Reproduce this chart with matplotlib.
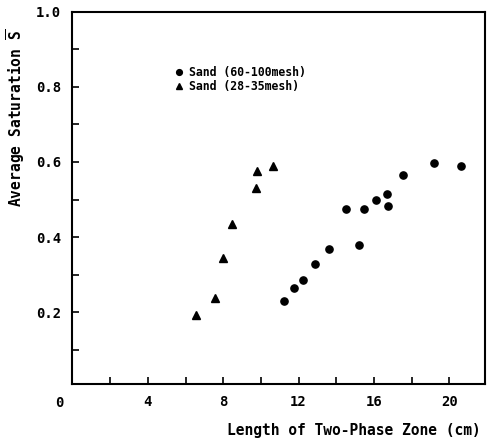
import matplotlib.pyplot as plt
from matplotlib.ticker import MultipleLocator

# 数据：两种砂的平均饱和度与两相区长度
fine_x = [11.2, 11.76, 12.24, 12.88, 13.6, 14.54, 15.21, 15.48, 16.11, 16.68, 16.73, 17.56, 19.17, 20.6]
fine_y = [0.230, 0.263, 0.285, 0.329, 0.368, 0.475, 0.379, 0.474, 0.499, 0.515, 0.483, 0.566, 0.596, 0.589]
coarse_x = [6.53, 7.57, 7.98, 8.47, 9.73, 9.77, 10.65]
coarse_y = [0.192, 0.238, 0.345, 0.435, 0.532, 0.575, 0.589]

x_ticks = [4, 8, 12, 16, 20]
y_ticks = [0.2, 0.4, 0.6, 0.8, 1.0]
labels = ['Sand (60-100mesh)', 'Sand (28-35mesh)']

plt.rcParams['font.family'] = ['DejaVu Sans Mono', 'DejaVu Sans']
plt.rcParams['font.weight'] = 'bold'
plt.rcParams['mathtext.fontset'] = 'custom'
plt.rcParams['mathtext.bf'] = 'DejaVu Sans Mono:bold'
plt.rcParams['mathtext.rm'] = 'DejaVu Sans Mono:bold'

fig = plt.figure(figsize=(4.93, 4.41), dpi=100)
ax = fig.add_axes([0.147, 0.129, 0.837, 0.844])

ax.plot(fine_x, fine_y, 'o', color='black', markersize=5.2, label=labels[0])
ax.plot(coarse_x, coarse_y, '^', color='black', markersize=5.2, label=labels[1])

ax.set_xlim(0, 21.9)
ax.set_ylim(0.008, 1.0)
ax.set_xticks(x_ticks)
ax.set_yticks(y_ticks)
ax.set_yticklabels(['%.1f' % v for v in y_ticks])
ax.xaxis.set_minor_locator(MultipleLocator(2))
ax.yaxis.set_minor_locator(MultipleLocator(0.1))
ax.tick_params(direction='in', which='both', length=5, width=1.2, labelsize=10)
ax.tick_params(axis='y', pad=8)
ax.tick_params(axis='x', pad=8)
for s in ax.spines.values():
    s.set_linewidth(1.5)

# 左下角的 0
fig.text(59 / 493, 1 - 403 / 441, '0', fontsize=10, ha='center', va='center')

fig.text(354 / 493, 1 - 430 / 441, 'Length of Two-Phase Zone (cm)', fontsize=10.5,
         ha='center', va='center')
fig.text(16 / 493, 1 - 118 / 441, r'Average Saturation $\overline{\mathbf{S}}$', fontsize=10.5,
         ha='center', va='center', rotation=90)

leg = ax.legend(loc='upper left', bbox_to_anchor=(0.235, 0.866), frameon=False,
                fontsize=8.3, handletextpad=0.5, borderaxespad=0, labelspacing=0.05,
                handlelength=0.8, markerscale=0.8)

plt.savefig('out.png', dpi=100)
